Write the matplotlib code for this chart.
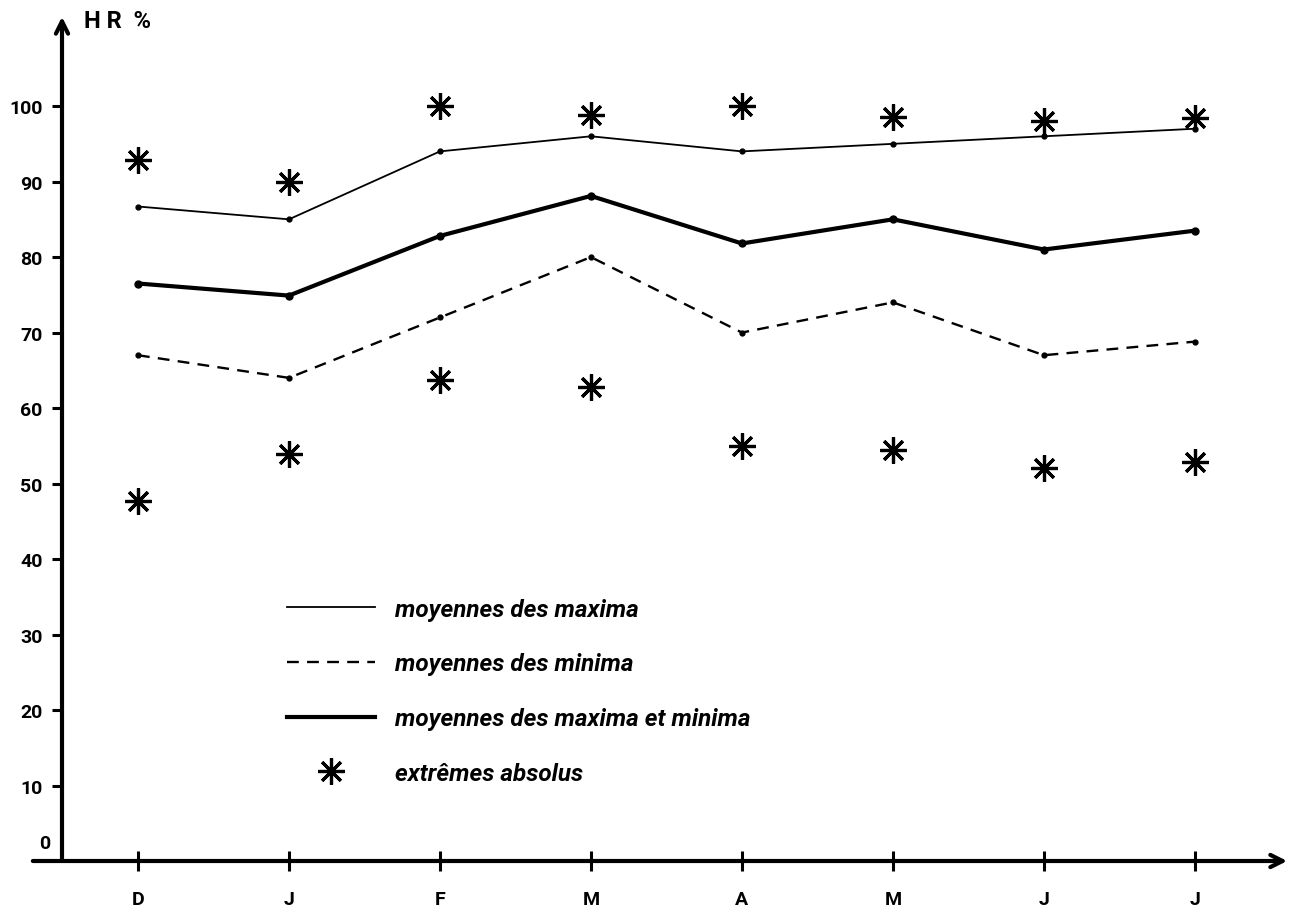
import matplotlib.pyplot as plt
from matplotlib.lines import Line2D

# mois (decembre a juillet)
mois = ["D", "J", "F", "M", "A", "M", "J", "J"]

# humidite relative %
moy_max = [86.7, 85, 94, 96, 94, 95, 96, 97]
moy_min = [67, 64, 72, 80, 70, 74, 67, 68.8]
moy_maxmin = [76.5, 74.9, 82.8, 88.1, 81.8, 85, 81, 83.5]
ext_haut = [92.8, 90, 100, 98.8, 100, 98.6, 98, 98.4]
ext_bas = [47.7, 53.9, 63.7, 62.8, 55, 54.4, 52, 52.8]

etoile = (8, 2, 0)
x = list(range(len(mois)))

fig = plt.figure(figsize=(13, 9.12), dpi=100)
ax = fig.add_axes([62 / 1300, 50 / 912, 1228 / 1300, 847 / 912])

ax.plot(x, moy_max, color="k", lw=1.3, marker="o", ms=3.5)
ax.plot(x, moy_min, color="k", lw=1.7, ls=(0, (5, 3.5)), marker="o", ms=3.5)
ax.plot(x, moy_maxmin, color="k", lw=3, marker="o", ms=5)
ax.plot(x, ext_haut, ls="none", marker=etoile, ms=19, mew=2.3, color="k")
ax.plot(x, ext_bas, ls="none", marker=etoile, ms=19, mew=2.3, color="k")

ax.set_xlim(-0.503, 7.63)
ax.set_ylim(0, 112.2)

for s in ax.spines.values():
    s.set_visible(False)

# axes avec fleches
ax.annotate("", xy=(0, 1), xytext=(0, 0), xycoords="axes fraction",
            arrowprops=dict(arrowstyle="->", lw=3, color="k", mutation_scale=22))
ax.annotate("", xy=(1, 0), xytext=(-0.026, 0), xycoords="axes fraction",
            arrowprops=dict(arrowstyle="->", lw=3, color="k", mutation_scale=22))

ax.set_yticks(range(10, 101, 10))
ax.set_xticks(x)
ax.set_xticklabels(mois)
ax.tick_params(axis="y", direction="out", length=7, width=2.2, pad=7,
               labelsize=14)
ax.tick_params(axis="x", direction="inout", length=14, width=2.2, pad=14,
               labelsize=14)
for lab in ax.get_xticklabels() + ax.get_yticklabels():
    lab.set_fontfamily("Roboto")
    lab.set_fontweight("bold")

ax.text(-0.62, 1.2, "0", fontsize=14, fontfamily="Roboto", fontweight="bold",
        ha="center", va="bottom")
ax.text(-0.36, 112.8, "H R  %", fontsize=17, fontfamily="Roboto",
        fontweight="bold", ha="left", va="top")

poignees = [
    Line2D([], [], color="k", lw=1.3),
    Line2D([], [], color="k", lw=1.7, ls=(0, (5, 3.5))),
    Line2D([], [], color="k", lw=3),
    Line2D([], [], ls="none", marker=etoile, ms=19, mew=2.3, color="k"),
]
noms = ["moyennes des maxima", "moyennes des minima",
        "moyennes des maxima et minima", "extrêmes absolus"]
leg = ax.legend(poignees, noms, loc="upper left", bbox_to_anchor=(0.1735, 0.325),
                frameon=False, handlelength=3.6, handletextpad=0.85,
                labelspacing=1.3, borderpad=0,
                prop=dict(family="Roboto", style="italic", weight="bold", size=17.5))

fig.savefig("out.png", dpi=100)
